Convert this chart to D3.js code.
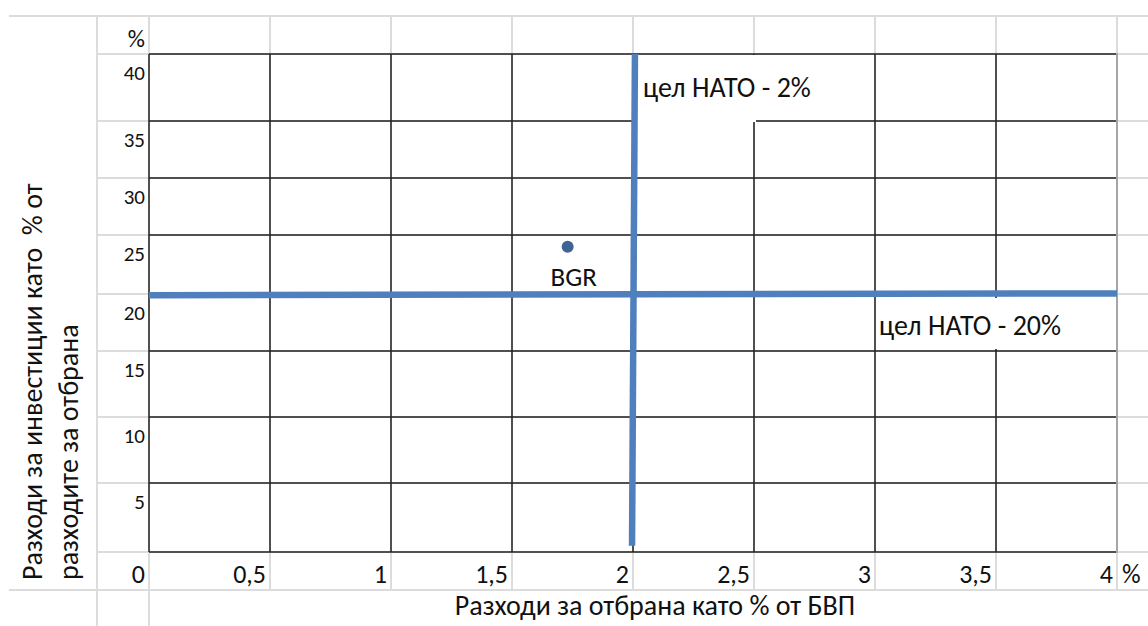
<!DOCTYPE html>
<html>
<head>
<meta charset="utf-8">
<script src="https://cdn.jsdelivr.net/npm/d3@7"></script>
<style>
  body { margin: 0; background: #fff; }
  text { font-family: Carlito, Lato, "Open Sans", sans-serif; fill: #111; }
</style>
</head>
<body>
<div id="chart"></div>
<script>
'use strict';

// axis values (sheet cells)
var xTicks = [0, 0.5, 1, 1.5, 2, 2.5, 3, 3.5, 4];
var xTickLabels = ['0', '0,5', '1', '1,5', '2', '2,5', '3', '3,5', '4'];
var yTicks = [0, 5, 10, 15, 20, 25, 30, 35, 40];
var yTickLabels = ['0', '5', '10', '15', '20', '25', '30', '35', '40'];

// scatter point
var countries = ['BGR'];
var defenceGdp = [1.73];
var investShare = [24];

// NATO target lines (hand drawn, slightly off axis)
var natoGdpLine = [[2.008, 40], [1.996, 0.45]];
var natoInvestLine = [[0, 19.9], [4, 20.05]];
var natoLabels = ['цел НАТО - 2%', 'цел НАТО - 20%'];

var xTitle = 'Разходи за отбрана като % от БВП';
var yTitle = ['Разходи за инвестиции като  % от', 'разходите за отбрана'];

var width = 1148,
    height = 626;

var svg = d3.select('#chart').append('svg')
    .attr('width', width)
    .attr('height', height);

var x = d3.scaleLinear()
    .domain([0, 4])
    .range([149, 1117]);

// sheet rows are not all the same height
var y = d3.scaleLinear()
    .domain(yTicks)
    .range([552, 483, 417, 351, 294, 235, 178, 121, 54]);

//////////////////////////////////////////////////////
// spreadsheet cell borders
var sheet = svg.append('g')
    .attr('stroke', '#dcdcdc')
    .attr('stroke-width', 2);

sheet.append('line').attr('x1', 9).attr('x2', width).attr('y1', 16).attr('y2', 16);
sheet.append('line').attr('x1', 9).attr('x2', width).attr('y1', 590).attr('y2', 590);

sheet.selectAll('line.row')
    .data(yTicks)
    .enter().append('line')
    .attr('class', 'row')
    .attr('x1', 97).attr('x2', width)
    .attr('y1', function(d) { return y(d); })
    .attr('y2', function(d) { return y(d); });

sheet.selectAll('line.side')
    .data([97, 149])
    .enter().append('line')
    .attr('class', 'side')
    .attr('x1', function(d) { return d; })
    .attr('x2', function(d) { return d; })
    .attr('y1', 16).attr('y2', height);

sheet.selectAll('line.col')
    .data(xTicks.slice(1))
    .enter().append('line')
    .attr('class', 'col')
    .attr('x1', function(d) { return x(d); })
    .attr('x2', function(d) { return x(d); })
    .attr('y1', 16).attr('y2', 590);

//////////////////////////////////////////////////////
// chart grid
var grid = svg.append('g')
    .attr('stroke', '#222')
    .attr('stroke-width', 1.5);

grid.selectAll('line.h')
    .data(yTicks)
    .enter().append('line')
    .attr('class', 'h')
    .attr('x1', x(0)).attr('x2', x(4))
    .attr('y1', function(d) { return y(d); })
    .attr('y2', function(d) { return y(d); });

grid.selectAll('line.v')
    .data(xTicks.slice(0, -1))
    .enter().append('line')
    .attr('class', 'v')
    .attr('x1', function(d) { return x(d); })
    .attr('x2', function(d) { return x(d); })
    .attr('y1', y(40)).attr('y2', y(0));

grid.append('line')
    .attr('stroke', '#a6a6a6')
    .attr('stroke-width', 2)
    .attr('x1', x(4)).attr('x2', x(4))
    .attr('y1', y(40) - 1).attr('y2', y(0) + 1);

// white text boxes of the two labels hide part of the grid
svg.append('rect')
    .attr('x', x(2) + 3).attr('y', y(40) + 1)
    .attr('width', x(2.5) - x(2) - 1).attr('height', y(35) - y(40))
    .attr('fill', '#fff');

svg.append('rect')
    .attr('x', x(3) + 2).attr('y', y(20) + 4)
    .attr('width', x(3.95) - x(3)).attr('height', y(15) - y(20) - 6)
    .attr('fill', '#fff');

//////////////////////////////////////////////////////
// NATO lines
var line = d3.line()
    .x(function(d) { return x(d[0]); })
    .y(function(d) { return y(d[1]); });

svg.selectAll('path.nato')
    .data([natoInvestLine, natoGdpLine])
    .enter().append('path')
    .attr('class', 'nato')
    .attr('d', line)
    .attr('fill', 'none')
    .attr('stroke', '#4f7fbc')
    .attr('stroke-width', 6.5);

svg.append('text')
    .attr('x', x(2) + 10)
    .attr('y', y(40) + 43)
    .style('font-size', '28px')
    .text(natoLabels[0]);

svg.append('text')
    .attr('x', x(3) + 4)
    .attr('y', y(20) + 41)
    .style('font-size', '28px')
    .text(natoLabels[1]);

//////////////////////////////////////////////////////
// scatter point
var points = svg.selectAll('g.point')
    .data(countries)
    .enter().append('g')
    .attr('class', 'point');

points.append('circle')
    .attr('cx', function(d, i) { return x(defenceGdp[i]); })
    .attr('cy', function(d, i) { return y(investShare[i]); })
    .attr('r', 6)
    .attr('fill', '#3e6496');

points.append('text')
    .attr('x', function(d, i) { return x(defenceGdp[i]) + 6; })
    .attr('y', function(d, i) { return y(investShare[i]) + 39; })
    .attr('text-anchor', 'middle')
    .style('font-size', '27px')
    .text(function(d) { return d; });

//////////////////////////////////////////////////////
// cell values used as tick labels
svg.selectAll('text.ytick')
    .data(yTicks.slice(1))
    .enter().append('text')
    .attr('class', 'ytick')
    .attr('x', 145)
    .attr('y', function(d) { return y(d) + 26; })
    .attr('text-anchor', 'end')
    .style('font-size', '21px')
    .text(function(d, i) { return yTickLabels[i + 1]; });

svg.append('text')
    .attr('x', 145)
    .attr('y', 47)
    .attr('text-anchor', 'end')
    .style('font-size', '24px')
    .text('%');

svg.selectAll('text.xtick')
    .data(xTicks)
    .enter().append('text')
    .attr('class', 'xtick')
    .attr('x', function(d) { return x(d) - 4; })
    .attr('y', 583)
    .attr('text-anchor', 'end')
    .style('font-size', '26px')
    .text(function(d, i) { return xTickLabels[i]; });

svg.append('text')
    .attr('x', x(4) + 5)
    .attr('y', 583)
    .style('font-size', '26px')
    .text('%');

// axis titles
svg.append('text')
    .attr('x', 655)
    .attr('y', 615)
    .attr('text-anchor', 'middle')
    .style('font-size', '28px')
    .text(xTitle);

svg.selectAll('text.ytitle')
    .data(yTitle)
    .enter().append('text')
    .attr('class', 'ytitle')
    .attr('transform', function(d, i) { return 'translate(' + (42 + i * 36) + ',580) rotate(-90)'; })
    .style('font-size', '28px')
    .style('white-space', 'pre')
    .text(function(d) { return d; });
</script>
</body>
</html>
